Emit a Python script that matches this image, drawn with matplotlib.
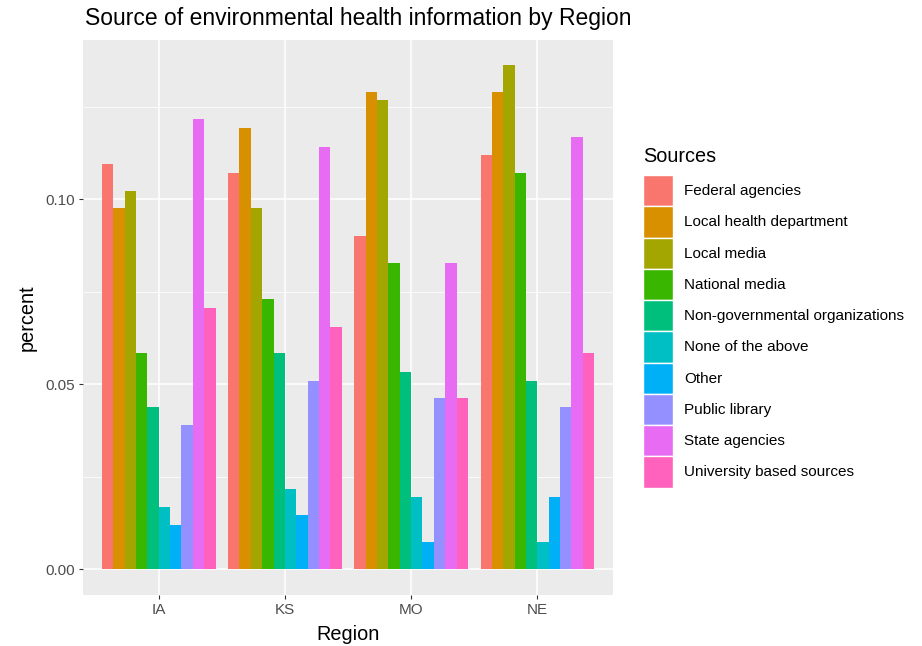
import matplotlib.pyplot as plt
from matplotlib.patches import Patch
from matplotlib.ticker import MultipleLocator
import numpy as np

plt.rcParams['font.family'] = ['Liberation Sans', 'DejaVu Sans']

regions = ['IA', 'KS', 'MO', 'NE']
sources = ['Federal agencies', 'Local health department', 'Local media', 'National media',
           'Non-governmental organizations', 'None of the above', 'Other', 'Public library',
           'State agencies', 'University based sources']
colors = ['#F8766D', '#D89000', '#A3A500', '#39B600', '#00BF7D',
          '#00BFC4', '#00B0F6', '#9590FF', '#E76BF3', '#FF62BC']

# share of responses per source, one list per region (same order as sources)
ia = [0.1094, 0.0975, 0.1022, 0.0584, 0.0438, 0.0169, 0.0121, 0.0389, 0.1216, 0.0705]
ks = [0.1070, 0.1191, 0.0975, 0.0730, 0.0584, 0.0218, 0.0146, 0.0510, 0.1142, 0.0656]
mo = [0.0901, 0.1289, 0.1267, 0.0827, 0.0534, 0.0195, 0.0073, 0.0462, 0.0827, 0.0462]
ne = [0.1119, 0.1289, 0.1362, 0.1070, 0.0510, 0.0073, 0.0195, 0.0438, 0.1168, 0.0584]

values = np.array([ia, ks, mo, ne])   # rows = regions, cols = sources

fig = plt.figure(figsize=(9.22, 6.46), dpi=100)
ax = fig.add_axes([83 / 922, 1 - 594.5 / 646, 530 / 922, 554.5 / 646])
ax.set_facecolor('#EBEBEB')

n = len(sources)
width = 0.9 / n
x = np.arange(1, len(regions) + 1)
for i, (src, col) in enumerate(zip(sources, colors)):
    ax.bar(x - 0.45 + width * (i + 0.5), values[:, i], width=width, color=col,
           linewidth=0, zorder=3)

ymax = values.max()
ax.set_ylim(-0.05 * ymax, 1.05 * ymax)
ax.set_xlim(0.4, len(regions) + 0.6)
ax.set_xticks(x)
ax.set_xticklabels(regions)
ax.yaxis.set_major_locator(MultipleLocator(0.05))
ax.yaxis.set_minor_locator(MultipleLocator(0.025))
ax.yaxis.set_major_formatter(lambda v, p: f'{v:.2f}')
ax.grid(which='major', color='white', linewidth=1.1, zorder=0)
ax.grid(which='minor', axis='y', color='white', linewidth=0.55, zorder=0)
ax.set_axisbelow(True)
for s in ax.spines.values():
    s.set_visible(False)
ax.tick_params(axis='both', which='major', length=3, width=0.8, color='#333333',
               labelcolor='#4D4D4D', labelsize=11, pad=3)
ax.tick_params(axis='y', which='minor', length=0)

ax.set_xlabel('Region', fontsize=14.3, labelpad=6)
ax.set_ylabel('percent', fontsize=14.3, labelpad=6)
fig.text(85 / 922, 1 - 19 / 646, 'Source of environmental health information by Region',
         fontsize=16.5, ha='left', va='center')

# legend: title placed by hand, keys stacked without gaps
fig.text(643 / 922, 1 - 157 / 646, 'Sources', fontsize=14.3, ha='left', va='center')
handles = [Patch(facecolor=c, edgecolor='white', linewidth=1, label=s)
           for s, c in zip(sources, colors)]
leg = fig.legend(handles=handles, loc='upper left',
                 bbox_to_anchor=(643 / 922, 1 - 175 / 646), frameon=False,
                 fontsize=11, labelspacing=0, handlelength=1.96, handleheight=2.77,
                 handletextpad=0.72, borderpad=0, borderaxespad=0)

fig.savefig('out.png', dpi=100)
